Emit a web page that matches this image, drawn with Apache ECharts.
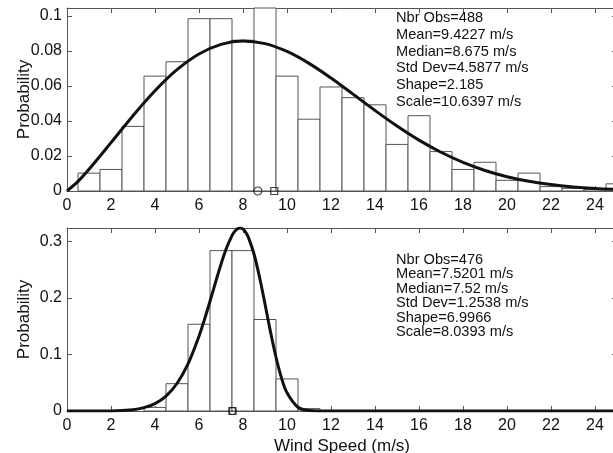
<!DOCTYPE html>
<html>
<head>
<meta charset="utf-8">
<script src="https://cdn.jsdelivr.net/npm/echarts@6/dist/echarts.min.js"></script>
<style>
html,body{margin:0;padding:0;background:#fff;}
#chart{width:613px;height:453px;}
</style>
</head>
<body>
<div id="chart"></div>
<script>
// ---------- data ----------
var binCenters = [1,2,3,4,5,6,7,8,9,10,11,12,13,14,15,16,17,18,19,20,21,22,23,24,25];
var topProb = [0.0102,0.0123,0.0369,0.0656,0.0738,0.0984,0.0984,0.0861,0.1045,0.0656,0.0410,0.0594,0.0533,0.0492,0.0266,0.0430,0.0225,0.0123,0.0164,0.0061,0.0102,0.0025,0.0015,0.0008,0.0041];
var bottomProb = [0,0,0,0.0063,0.0483,0.1534,0.2836,0.2836,0.1618,0.0567,0.0042,0,0,0,0,0,0,0,0,0,0,0,0,0,0];

var topCurveX = [0,0.5,1,2,3,4,5,6,7,8,9,10,11,12,13,14,15,16,17,18,19,20,21,22,23,24,25];
var topCurveY = [0,0.00547,0.01239,0.02761,0.04302,0.05726,0.06926,0.07825,0.08376,0.08567,0.08416,0.07968,0.07288,0.06450,0.05531,0.04599,0.03711,0.02906,0.02211,0.01634,0.01173,0.00818,0.00554,0.00365,0.00234,0.00145,0.00088];

var bottomCurveX = [0,1,2,3,3.5,4,4.5,5,5.5,6,6.25,6.5,6.75,7,7.25,7.5,7.625,7.75,7.875,8,8.125,8.25,8.5,8.75,9,9.25,9.5,9.75,10,10.5,11,11.5,12,25];
var bottomCurveY = [0,0.000001,0.00021,0.00236,0.00593,0.01314,0.02637,0.04867,0.08331,0.13231,0.16195,0.19409,0.22730,0.25958,0.28824,0.31022,0.31764,0.32223,0.32361,0.32155,0.31591,0.30661,0.27760,0.23700,0.18922,0.13997,0.09505,0.05850,0.03224,0.00663,0.00073,0.00004,0,0];

var topMedian = 8.675, topMean = 9.4227;
var bottomMedian = 7.52, bottomMean = 7.5201;

var topStats = ['Nbr Obs=488','Mean=9.4227 m/s','Median=8.675 m/s','Std Dev=4.5877 m/s','Shape=2.185','Scale=10.6397 m/s'];
var bottomStats = ['Nbr Obs=476','Mean=7.5201 m/s','Median=7.52 m/s','Std Dev=1.2538 m/s','Shape=6.9966','Scale=8.0393 m/s'];

var xTickStep = 2, xMax = 25;
var topYMax = 0.1045, topYStep = 0.02;
var bottomYMax = 0.3236, bottomYStep = 0.1;
var xName = 'Wind Speed (m/s)', yName = 'Probability';

// ---------- helpers ----------
var FONT = "'Liberation Sans', Arial, Helvetica, sans-serif";
var AX = '#555';
function zip(a, b){ return a.map(function(v,i){ return [v, b[i]]; }); }
function stepFmt(step){
  return function(v){
    var r = v/step;
    if (Math.abs(r - Math.round(r)) > 1e-6) return '';
    return String(+v.toFixed(4));
  };
}
function barData(vals){
  var out = [];
  binCenters.forEach(function(c,i){ if (vals[i] > 0) out.push([c, vals[i]]); });
  return out;
}
function renderBar(params, api){
  var c = api.value(0), v = api.value(1);
  var p0 = api.coord([c - 0.5, v]);
  var p1 = api.coord([c + 0.5, 0]);
  var cs = params.coordSys;
  var rect = echarts.graphic.clipRectByRect(
    {x:p0[0], y:p0[1], width:p1[0]-p0[0], height:p1[1]-p0[1]},
    {x:cs.x, y:cs.y, width:cs.width, height:cs.height + 1});
  if (!rect) return;
  return {type:'rect', shape:rect, style:{fill:'#fff', stroke:AX, lineWidth:1}};
}
function xAx(grid, pos, labels, name){
  var o = {
    type:'value', gridIndex:grid, position:pos, min:0, max:xMax, interval:xTickStep,
    axisLine:{show:true, onZero:false, lineStyle:{color:AX, width:1}},
    axisTick:{show:true, inside:true, length:5, lineStyle:{color:AX}},
    axisLabel:{show:labels, formatter:stepFmt(xTickStep), color:'#111', fontSize:16, fontFamily:FONT, margin:7},
    splitLine:{show:false}
  };
  if (name){ o.name = name; o.nameLocation = 'middle'; o.nameGap = 27; o.nameMoveOverlap = false;
    o.nameTextStyle = {color:'#111', fontSize:17, fontFamily:FONT}; }
  return o;
}
function yAx(grid, pos, labels, max, step){
  var o = {
    type:'value', gridIndex:grid, position:pos, min:0, max:max, interval:step,
    axisLine:{show:true, onZero:false, lineStyle:{color:AX, width:1}},
    axisTick:{show:true, inside:true, length:5, lineStyle:{color:AX}},
    axisLabel:{show:labels, formatter:stepFmt(step), color:'#111', fontSize:16, fontFamily:FONT, margin:5},
    splitLine:{show:false}
  };
  if (labels){ o.name = yName; o.nameLocation = 'middle'; o.nameGap = 34; o.nameMoveOverlap = false;
    o.nameTextStyle = {color:'#111', fontSize:17, fontFamily:FONT}; }
  return o;
}
function marker(xi, yi, x, sym, size){
  return {type:'scatter', xAxisIndex:xi, yAxisIndex:yi, data:[[x,0]], symbol:sym, symbolSize:size,
    itemStyle:{color:'rgba(0,0,0,0)', borderColor:'#111', borderWidth:1.2}, z:5, clip:false, silent:true};
}

var chart = echarts.init(document.getElementById('chart'), null, {renderer:'canvas'});
chart.setOption({
  animation:false,
  backgroundColor:'#fff',
  grid:[
    {left:67, top:8, width:550, height:183, outerBoundsMode:'none', containLabel:false},
    {left:67, top:228, width:550, height:183, outerBoundsMode:'none', containLabel:false}
  ],
  xAxis:[
    xAx(0,'bottom',true), xAx(0,'top',false),
    xAx(1,'bottom',true,xName), xAx(1,'top',false)
  ],
  yAxis:[
    yAx(0,'left',true,topYMax,topYStep), yAx(0,'right',false,topYMax,topYStep),
    yAx(1,'left',true,bottomYMax,bottomYStep), yAx(1,'right',false,bottomYMax,bottomYStep)
  ],
  series:[
    {type:'custom', xAxisIndex:0, yAxisIndex:0, data:barData(topProb), renderItem:renderBar, z:1, silent:true},
    {type:'line', xAxisIndex:0, yAxisIndex:0, data:zip(topCurveX, topCurveY), smooth:0.35, symbol:'none',
      lineStyle:{color:'#111', width:3}, z:3, silent:true},
    marker(0,0,topMedian,'circle',8),
    marker(0,0,topMean,'rect',7),
    {type:'custom', xAxisIndex:2, yAxisIndex:2, data:barData(bottomProb), renderItem:renderBar, z:1, silent:true},
    {type:'line', xAxisIndex:2, yAxisIndex:2, data:zip(bottomCurveX, bottomCurveY), smooth:0.35, symbol:'none',
      lineStyle:{color:'#111', width:3}, z:3, silent:true},
    marker(2,2,bottomMedian,'circle',7),
    marker(2,2,bottomMean,'rect',7)
  ],
  graphic:[
    {type:'text', left:396, top:10, z:10, silent:true,
      style:{text:topStats.join('\n'), font:'14.6px ' + FONT, fill:'#111', lineHeight:16.67}},
    {type:'text', left:396, top:252, z:10, silent:true,
      style:{text:bottomStats.join('\n'), font:'14.6px ' + FONT, fill:'#111', lineHeight:14.5}}
  ]
});
</script>
</body>
</html>
